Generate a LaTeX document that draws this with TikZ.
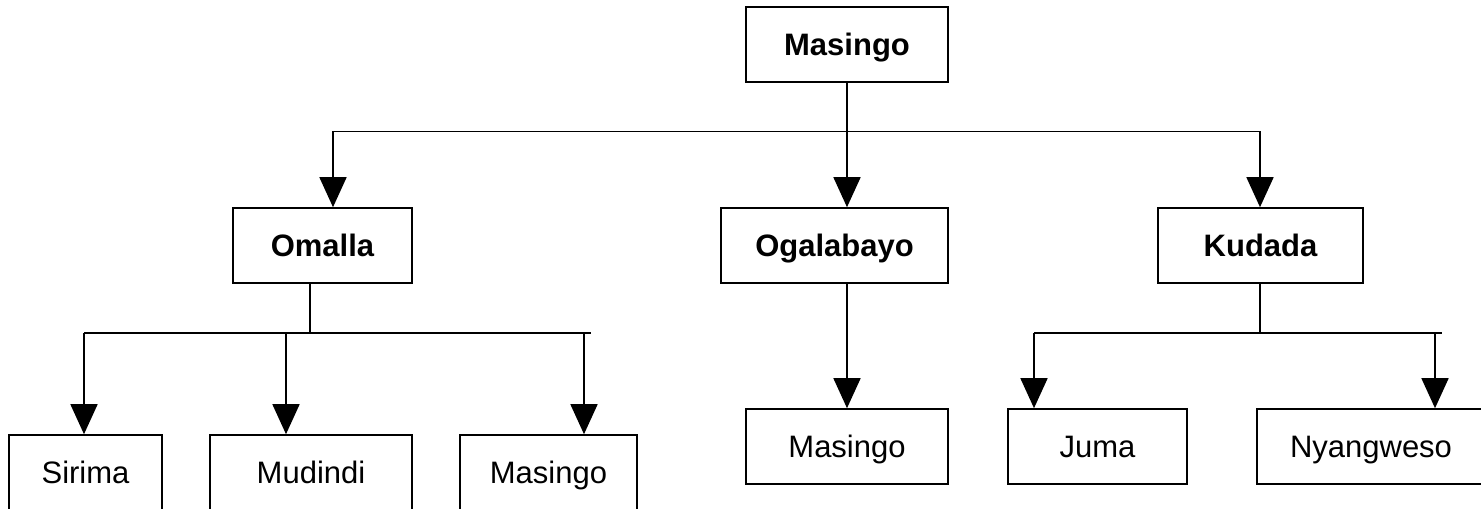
\documentclass[tikz,border=0pt]{standalone}
\usepackage{fontspec}
\setmainfont{Liberation Sans}
\usetikzlibrary{arrows.meta}

\begin{document}
\begin{tikzpicture}[
    x=0.5pt, y=-0.5pt,
    % Node styles
    person/.style={
        rectangle,
        draw=black,
        line width=0.8pt,
        minimum width=#1,
        minimum height=37.5pt,
        inner sep=0pt,
        text height=11.1pt,
        text depth=0pt,
        align=center,
        font=\fontsize{15.5}{18}\selectfont
    },
    person/.default=101pt,
    parent/.style={
        person=#1,
        font=\fontsize{15.5}{18}\selectfont\bfseries
    },
    parent/.default=101pt,
    arrow/.style={
        -{Triangle[length=15pt, width=13.5pt]},
        line width=0.8pt,
        draw=black
    },
    link/.style={
        line width=0.8pt,
        draw=black
    }
]

% Canvas
\useasboundingbox (0,0) rectangle (1481,508);
\clip (0,0) rectangle (1481,508);

% Generation 1
\node[parent] (root) at (847,44.5) {Masingo};

% Generation 2
\node[parent=89.5pt] (omalla) at (322.5,245.5) {Omalla};
\node[parent=113.5pt] (ogalabayo) at (834.5,245.5) {Ogalabayo};
\node[parent=102.5pt] (kudada) at (1260.5,245.5) {Kudada};

% Generation 3: children of Omalla (cut off at the bottom)
\node[person=76.5pt] (sirima) at (85.5,472.5) {Sirima};
\node[person=101pt] (mudindi) at (311,472.5) {Mudindi};
\node[person=88.5pt] (masingoL) at (548.5,472.5) {Masingo};

% Generation 3: child of Ogalabayo
\node[person=101pt] (masingoM) at (847,446.5) {Masingo};

% Generation 3: children of Kudada
\node[person=89.5pt] (juma) at (1097.5,446.5) {Juma};
\node[person=114pt] (nyangweso) at (1371,446.5) {Nyangweso};

% Bus under Masingo
\coordinate (rootbus) at (847,131.5);
\coordinate (rootL) at (333,131.5);
\coordinate (rootR) at (1260,131.5);
\draw[link] (root.south) -- (rootbus);
\draw[arrow] (rootbus) -- (rootL) -- (rootL |- omalla.north);
\draw[arrow] (rootbus) -- (rootbus |- ogalabayo.north);
\draw[arrow] (rootbus) -- (rootR) -- (rootR |- kudada.north);

% Bus under Omalla
\coordinate (omallabus) at (310,333);
\coordinate (omallaL) at (84,333);
\coordinate (omallaM) at (286,333);
\coordinate (omallaE) at (584,333);
\coordinate (omallaR) at (591,333);
\draw[link] (omallabus |- omalla.south) -- (omallabus);
\draw[link] (omallaL) -- (omallaR);
\draw[arrow] (omallaL) -- (omallaL |- sirima.north);
\draw[arrow] (omallaM) -- (omallaM |- mudindi.north);
\draw[arrow] (omallaE) -- (omallaE |- masingoL.north);

% Line under Ogalabayo
\draw[arrow] (rootbus |- ogalabayo.south) -- (rootbus |- masingoM.north);

% Bus under Kudada
\coordinate (kudadabus) at (1260,333);
\coordinate (kudadaL) at (1034,333);
\coordinate (kudadaE) at (1435,333);
\coordinate (kudadaR) at (1442,333);
\draw[link] (kudadabus |- kudada.south) -- (kudadabus);
\draw[link] (kudadaL) -- (kudadaR);
\draw[arrow] (kudadaL) -- (kudadaL |- juma.north);
\draw[arrow] (kudadaE) -- (kudadaE |- nyangweso.north);

\end{tikzpicture}
\end{document}
